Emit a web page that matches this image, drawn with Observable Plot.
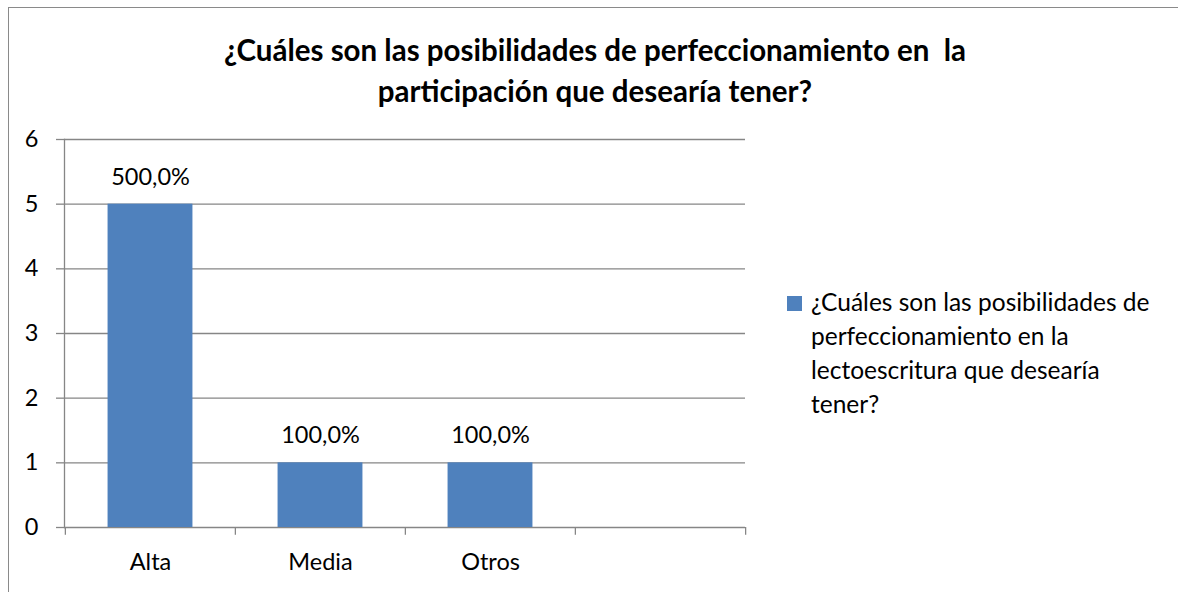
<!DOCTYPE html>
<html>
<head>
<meta charset="utf-8">
<script src="https://cdn.jsdelivr.net/npm/d3@7"></script>
<script src="https://cdn.jsdelivr.net/npm/@observablehq/plot@0.6"></script>
<style>
  html, body { margin: 0; padding: 0; background: #fff; }
  #wrap { position: relative; width: 1178px; height: 592px; overflow: hidden; font-family: Lato, "Open Sans", sans-serif; color: #000; }
  #border { position: absolute; left: 8px; top: 7px; width: 1400px; height: 800px; border-left: 1.5px solid #8a8a8a; border-top: 1.5px solid #8a8a8a; }
  #title { position: absolute; left: 50px; width: 1090px; top: 29px; text-align: center; font-weight: bold; font-size: 29.5px; line-height: 41px; }
  #chart { position: absolute; left: 0; top: 0; }
  #legend { position: absolute; left: 787px; top: 285px; width: 390px; font-size: 24.5px; line-height: 34px; }
  #legend .sw { position: absolute; left: 0; top: 11px; width: 15px; height: 15px; background: #4F81BD; }
  #legend .tx { margin-left: 24px; }
</style>
</head>
<body>
<div id="wrap">
  <div id="border"></div>
  <div id="title"></div>
  <div id="chart"></div>
  <div id="legend"><div class="sw"></div><div class="tx"></div></div>
</div>
<script>
const titleLines = ["¿Cuáles son las posibilidades de perfeccionamiento en\u00a0 la", "participación que desearía tener?"];
const seriesName = ["¿Cuáles son las posibilidades de", "perfeccionamiento en la", "lectoescritura que desearía", "tener?"];
const categories = ["Alta", "Media", "Otros", ""];
const values = [5, 1, 1];
const yTicks = [0, 1, 2, 3, 4, 5, 6];

document.getElementById("title").innerHTML = titleLines.join("<br>");
document.querySelector("#legend .tx").innerHTML = seriesName.join("<br>");

const data = values.map((v, i) => ({cat: categories[i], value: v}));
const fmt = v => (v * 100).toFixed(1).replace(".", ",") + "%";

const W = 1178, H = 592, mL = 64, mR = 433, mT = 139, mB = 65;
const step = (W - mL - mR) / categories.length;
const gridColor = "#868686";
const fs = 23.5;

const chart = Plot.plot({
  width: W, height: H,
  marginLeft: mL, marginRight: mR, marginTop: mT, marginBottom: mB,
  style: {fontFamily: "Lato, 'Open Sans', sans-serif", fontSize: fs + "px", color: "#000", background: "transparent", overflow: "visible"},
  x: {domain: categories, padding: 0, label: null},
  y: {domain: [0, 6], label: null},
  marks: [
    Plot.ruleY(yTicks, {stroke: gridColor, strokeWidth: 1.3}),
    Plot.barY(data, {x: "cat", y: "value", fill: "#4F81BD", insetLeft: step / 4, insetRight: step / 4}),
    Plot.text(data, {x: "cat", y: "value", text: d => fmt(d.value), dy: -27, fontSize: fs, fill: "#000"}),
    Plot.frame({anchor: "left", stroke: gridColor, strokeWidth: 1.3}),
    Plot.ruleX(categories, {x: d => d, y1: 0, y2: -0.12, dx: -step / 2, stroke: gridColor, strokeWidth: 1.3}),
    Plot.ruleX(categories.slice(-1), {x: d => d, y1: 0, y2: -0.12, dx: step / 2, stroke: gridColor, strokeWidth: 1.3}),
    Plot.axisY({ticks: yTicks, tickSize: 8, tickPadding: 18, tickFormat: d => String(d), stroke: gridColor, strokeWidth: 1.3, fill: "#000", fontSize: fs, label: null}),
    Plot.axisX({tickSize: 0, tickPadding: 26, fill: "#000", fontSize: fs, label: null})
  ]
});
document.getElementById("chart").appendChild(chart);
</script>
</body>
</html>
